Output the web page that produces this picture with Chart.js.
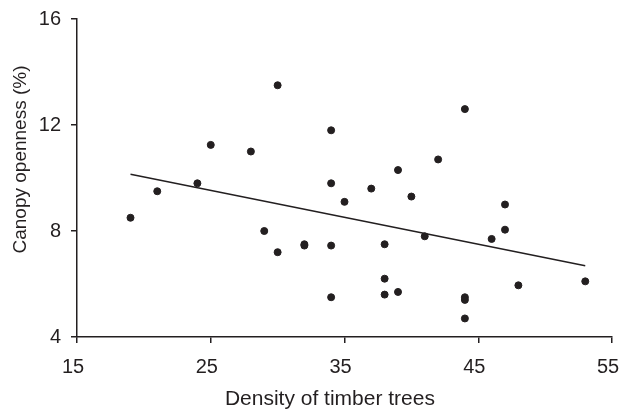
<!DOCTYPE html>
<html>
<head>
<meta charset="utf-8">
<script src="https://cdn.jsdelivr.net/npm/chart.js@4"></script>
<style>
  html, body { margin: 0; padding: 0; background: #fff; }
  #wrap { width: 621px; height: 412px; }
</style>
</head>
<body>
<div id="wrap"><canvas id="c"></canvas></div>
<script>
// Density of timber trees vs canopy openness
const density = [19, 21, 24, 25, 28, 29, 30, 30, 32, 32, 34, 34, 34, 34, 35, 37, 38, 38, 38, 39, 39, 40, 41, 42, 44, 44, 44, 44, 46, 47, 47, 48, 53];
const openness = [8.5, 9.5, 9.8, 11.25, 11.0, 8.0, 13.5, 7.2, 7.5, 7.45, 11.8, 9.8, 7.45, 5.5, 9.1, 9.6, 7.5, 6.2, 5.6, 10.3, 5.7, 9.3, 7.8, 10.7, 12.6, 5.5, 5.4, 4.7, 7.7, 8.05, 9.0, 5.95, 6.1];

// fitted trend line end points
const trendX = [19, 53];
const trendY = [10.14, 6.69];

const xTicks = [15, 25, 35, 45, 55];
const yTicks = [4, 8, 12, 16];

const ink = '#231f20';
const tickFont = { family: 'Liberation Sans, Arial, sans-serif', size: 20 };
const xTitleFont = { family: 'Liberation Sans, Arial, sans-serif', size: 21 };
const yTitleFont = { family: 'Liberation Sans, Arial, sans-serif', size: 19 };
// both axis titles sit a little off the middle in the original
const nb = n => '\u00a0'.repeat(n);
const xTitle = 'Density of timber trees' + nb(5);
const yTitle = nb(7) + 'Canopy openness (%)';

new Chart(document.getElementById('c'), {
  type: 'scatter',
  data: {
    datasets: [
      {
        label: 'trees',
        data: density.map((d, i) => ({ x: d, y: openness[i] })),
        backgroundColor: ink,
        borderColor: ink,
        pointRadius: 3.5,
        pointHoverRadius: 3.5
      },
      {
        label: 'trend',
        type: 'line',
        data: trendX.map((d, i) => ({ x: d, y: trendY[i] })),
        borderColor: ink,
        borderWidth: 1.5,
        pointRadius: 0,
        fill: false
      }
    ]
  },
  options: {
    responsive: true,
    maintainAspectRatio: false,
    animation: false,
    layout: { padding: { top: 19, right: 9, left: 0, bottom: 0 } },
    plugins: { legend: { display: false }, tooltip: { enabled: false } },
    scales: {
      x: {
        type: 'linear',
        min: 15,
        max: 55,
        afterBuildTicks: s => { s.ticks = xTicks.map(v => ({ value: v })); },
        afterFit: s => { s.height = 75; s.paddingLeft = 0; s.paddingRight = 0; },
        border: { color: ink, width: 1.5 },
        grid: { drawOnChartArea: false, tickLength: 6, color: ink, lineWidth: 1.5 },
        ticks: { color: ink, font: tickFont, padding: 12, labelOffset: -4 },
        title: { display: true, text: xTitle, color: ink, font: xTitleFont, padding: { top: 6, bottom: 0 } }
      },
      y: {
        min: 4,
        max: 16,
        afterBuildTicks: s => { s.ticks = yTicks.map(v => ({ value: v })); },
        afterFit: s => { s.width = 77; s.paddingTop = 0; s.paddingBottom = 0; },
        border: { color: ink, width: 1.5 },
        grid: { drawOnChartArea: false, tickLength: 6, color: ink, lineWidth: 1.5 },
        ticks: { color: ink, font: tickFont, padding: 10 },
        title: { display: true, text: yTitle, color: ink, font: yTitleFont, padding: { top: 9, bottom: 0 } }
      }
    }
  }
});
</script>
</body>
</html>
